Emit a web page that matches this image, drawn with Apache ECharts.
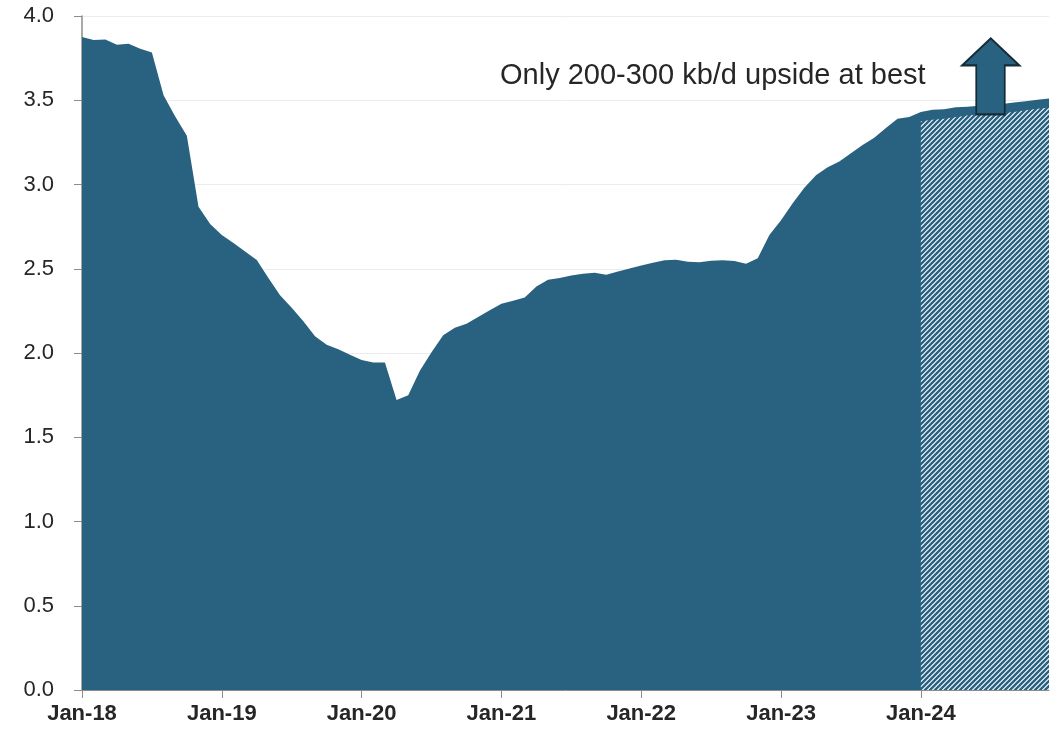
<!DOCTYPE html>
<html>
<head>
<meta charset="utf-8">
<script src="https://cdn.jsdelivr.net/npm/echarts@6/dist/echarts.min.js"></script>
<style>
  html, body { margin: 0; padding: 0; background: #fff; }
  #chart { width: 1056px; height: 734px; }
</style>
</head>
<body>
<div id="chart"></div>
<script>
// month labels, Jan-18 .. Dec-24
const monthNames = ['Jan', 'Feb', 'Mar', 'Apr', 'May', 'Jun', 'Jul', 'Aug', 'Sep', 'Oct', 'Nov', 'Dec'];
const years = ['18', '19', '20', '21', '22', '23', '24'];

// monthly values (solid area)
const actual = [
  3.875, 3.857, 3.860, 3.830, 3.835, 3.806, 3.784, 3.530, 3.404, 3.290, 2.868, 2.766,
  2.700, 2.653, 2.602, 2.552, 2.445, 2.343, 2.268, 2.188, 2.099, 2.049, 2.022, 1.989,
  1.958, 1.944, 1.944, 1.721, 1.750, 1.894, 2.004, 2.105, 2.150, 2.173, 2.213, 2.254,
  2.293, 2.310, 2.330, 2.395, 2.434, 2.445, 2.460, 2.470, 2.476, 2.464, 2.483, 2.501,
  2.520, 2.536, 2.550, 2.554, 2.542, 2.538, 2.547, 2.550, 2.546, 2.530, 2.562, 2.700,
  2.788, 2.889, 2.981, 3.055, 3.102, 3.136, 3.186, 3.234, 3.278, 3.335, 3.390, 3.400,
  3.430, 3.443, 3.447, 3.458, 3.462, 3.467, 3.472, 3.478, 3.487, 3.494, 3.503, 3.511
];

// hatched part, Jan-24 .. Dec-24
const forecastStart = 72;
const forecast = [3.375, 3.385, 3.390, 3.400, 3.410, 3.415, 3.420, 3.425, 3.430, 3.440, 3.450, 3.457];

const yTicks = [0, 0.5, 1.0, 1.5, 2.0, 2.5, 3.0, 3.5, 4.0];
const note = 'Only 200-300 kb/d upside at best';

const categories = [];
years.forEach(y => monthNames.forEach(m => categories.push(m + '-' + y)));

const hatchData = categories.map((c, i) =>
  i >= forecastStart ? forecast[i - forecastStart] : null
);

const BLUE = '#296281';

// diagonal stripe pattern
function makeHatch() {
  const s = 5;
  const cv = document.createElement('canvas');
  cv.width = s;
  cv.height = s;
  const ctx = cv.getContext('2d');
  ctx.fillStyle = '#ffffff';
  ctx.fillRect(0, 0, s, s);
  ctx.strokeStyle = BLUE;
  ctx.lineWidth = 2.4;
  ctx.beginPath();
  ctx.moveTo(-1, s + 1); ctx.lineTo(s + 1, -1);
  ctx.moveTo(-1, 1); ctx.lineTo(1, -1);
  ctx.moveTo(s - 1, s + 1); ctx.lineTo(s + 1, s - 1);
  ctx.stroke();
  return cv;
}

const chart = echarts.init(document.getElementById('chart'));

const option = {
  animation: false,
  grid: { left: 82, right: 7, top: 16, bottom: 44 },
  xAxis: {
    type: 'category',
    data: categories,
    boundaryGap: false,
    axisLine: { show: true, lineStyle: { color: '#8c8c8c', width: 1 } },
    axisTick: { show: true, interval: 11, length: 8, lineStyle: { color: '#8c8c8c' } },
    axisLabel: {
      interval: 11,
      margin: 13,
      color: '#262626',
      fontSize: 22,
      fontWeight: 'bold',
      fontFamily: 'Liberation Sans, Arial, sans-serif'
    },
    splitLine: { show: false }
  },
  yAxis: {
    type: 'value',
    min: yTicks[0],
    max: yTicks[yTicks.length - 1],
    interval: 0.5,
    axisLine: { show: true, lineStyle: { color: '#8c8c8c', width: 1.5 } },
    axisTick: { show: true, length: 8, lineStyle: { color: '#8c8c8c' } },
    axisLabel: {
      margin: 28,
      color: '#262626',
      fontSize: 22,
      fontFamily: 'Liberation Sans, Arial, sans-serif',
      formatter: v => v.toFixed(1)
    },
    splitLine: { show: true, lineStyle: { color: '#ececec', width: 1 } }
  },
  series: [
    {
      name: 'actual',
      type: 'line',
      data: actual,
      symbol: 'none',
      lineStyle: { width: 0 },
      areaStyle: { color: BLUE, opacity: 1 },
      z: 2
    },
    {
      name: 'hatch',
      type: 'line',
      data: hatchData,
      symbol: 'none',
      connectNulls: false,
      lineStyle: { width: 0 },
      areaStyle: { color: { image: makeHatch(), repeat: 'repeat' }, opacity: 1 },
      z: 3,
      markPoint: {
        silent: true,
        symbol: 'path://M28.5,0 L57,27 L42.5,27 L42.5,76 L14,76 L14,27 L0,27 Z',
        symbolSize: [57, 76],
        itemStyle: { color: BLUE, borderColor: '#162b38', borderWidth: 2 },
        label: { show: false },
        data: [{ coord: [78, 3.642] }]
      }
    }
  ],
  graphic: [
    {
      type: 'text',
      x: 500,
      y: 76,
      style: {
        text: note,
        fill: '#262626',
        fontSize: 29,
        fontFamily: 'Liberation Sans, Arial, sans-serif',
        verticalAlign: 'middle'
      }
    }
  ]
};

chart.setOption(option);
</script>
</body>
</html>
